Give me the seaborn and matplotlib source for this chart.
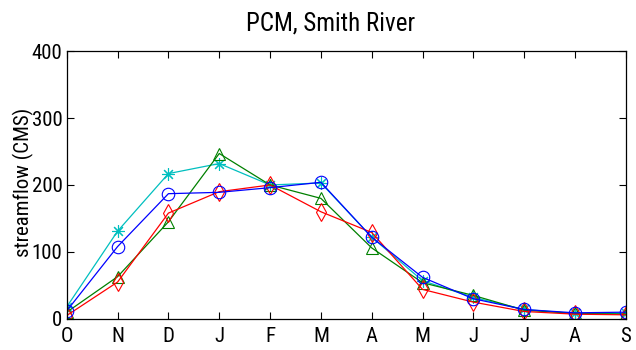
# Standard library / plotting imports
from matplotlib import pyplot as plt
import pandas as pd
import seaborn as sns

# ==============================================================================
# DATA
# ==============================================================================
months = ["O", "N", "D", "J", "F", "M", "A", "M", "J", "J", "A", "S"]
cyan_star = [18, 131, 217, 232, 200, 203, 122, 57, 32, 14, 8, 8]
green_tri = [10, 63, 145, 247, 200, 180, 106, 54, 35, 13, 8, 7]
red_diamond = [5, 55, 158, 190, 200, 160, 129, 44, 25, 11, 7, 6]
blue_circle = [12, 108, 187, 189, 196, 204, 122, 62, 30, 14, 9, 10]

series = [
    ("cyan", cyan_star, "c", (8, 2, 0)),   # matlab-style asterisk
    ("green", green_tri, "g", "^"),
    ("red", red_diamond, "r", "d"),
    ("blue", blue_circle, "b", "o"),
]

# ==============================================================================
# PLOT
# ==============================================================================
sns.set_style("ticks")
plt.rcParams["font.family"] = ["Roboto Condensed", "Liberation Sans", "DejaVu Sans"]
plt.rcParams["text.color"] = "black"
plt.rcParams["axes.labelcolor"] = "black"

fig = plt.figure(figsize=(6.36, 3.5), dpi=100)
ax = fig.add_axes([0.105, 0.089, 0.879, 0.765])

x_idx = list(range(len(months)))
for name, vals, col, mk in series:
    df = pd.DataFrame({"x": x_idx, "y": vals})
    sns.lineplot(data=df, x="x", y="y", ax=ax, color=col, marker=mk,
                 markersize=9, markerfacecolor="none",
                 markeredgecolor=col, markeredgewidth=0.8, linewidth=0.9)

ax.set_xlim(0, 11)
ax.set_ylim(0, 400)
ax.set_xticks(x_idx)
ax.set_xticklabels(months)
ax.set_yticks([0, 100, 200, 300, 400])
ax.tick_params(direction="in", top=True, right=True, labelsize=15,
               length=5, width=0.8, colors="black")
ax.tick_params(axis="x", pad=6)
ax.tick_params(axis="y", pad=3)
for sp in ax.spines.values():
    sp.set_linewidth(0.9)
    sp.set_color("black")

ax.set_xlabel("")
ax.set_ylabel("streamflow (CMS)", fontsize=15)
ax.yaxis.set_label_coords(-0.058, 0.51)
ax.set_title("PCM, Smith River", fontsize=18, pad=15, color="black", x=0.472)

fig.savefig("out.png", dpi=100)
